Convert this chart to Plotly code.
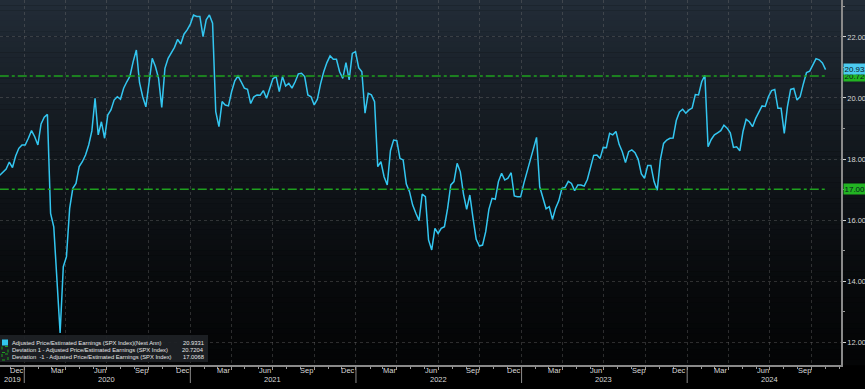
import pandas as pd
import plotly.graph_objects as go

# ---------------- data ----------------
start_date = "2019-11-08"
pe_values = [
    17.47, 17.56, 17.67, 17.90, 17.72, 18.10, 18.35, 18.46, 18.46, 18.68,
    18.93, 18.73, 18.46, 19.15, 19.37, 19.46, 16.22, 15.78, 14.14, 12.30,
    14.47, 14.80, 16.38, 17.04, 17.20, 17.75, 17.91, 18.13, 18.46, 18.92,
    19.99, 18.79, 19.22, 18.68, 19.44, 19.61, 19.93, 20.04, 19.96, 20.32,
    20.53, 20.72, 21.19, 21.57, 20.50, 20.04, 19.71, 20.53, 21.30, 21.03,
    20.64, 19.69, 20.97, 21.30, 21.46, 21.66, 21.92, 21.77, 22.09, 22.23,
    22.42, 22.72, 22.67, 22.67, 22.01, 22.56, 22.72, 22.45, 19.55, 19.06,
    19.88, 19.77, 19.74, 20.21, 20.56, 20.72, 20.53, 20.32, 20.28, 19.82,
    20.04, 20.10, 20.09, 20.24, 19.99, 20.35, 20.63, 20.70, 20.21, 20.70,
    20.39, 20.48, 20.32, 20.53, 20.79, 20.81, 20.70, 20.10, 20.04, 19.77,
    19.96, 20.46, 20.86, 21.16, 21.38, 21.27, 21.27, 20.86, 20.64, 21.16,
    20.59, 21.46, 21.52, 20.99, 20.86, 19.50, 20.15, 20.10, 19.88, 17.75,
    17.91, 17.42, 17.15, 18.27, 18.62, 18.60, 18.02, 17.97, 17.18, 16.93,
    16.49, 16.22, 15.98, 16.85, 16.77, 15.35, 15.02, 15.73, 15.56, 15.73,
    15.78, 16.38, 17.15, 17.26, 17.86, 17.58, 16.85, 16.35, 16.82, 16.06,
    15.37, 15.15, 15.18, 15.62, 16.35, 16.71, 16.68, 17.26, 17.53, 17.31,
    17.37, 17.55, 16.79, 16.76, 16.76, 17.20, 17.58, 17.94, 18.35, 18.71,
    17.09, 16.76, 16.37, 16.44, 16.02, 16.39, 16.63, 17.04, 17.07, 17.27,
    17.20, 16.96, 17.15, 17.15, 17.11, 17.33, 17.73, 18.12, 18.13, 18.02,
    18.38, 18.37, 18.84, 18.79, 18.90, 18.48, 18.24, 17.88, 18.24, 18.30,
    18.21, 17.99, 17.51, 17.37, 17.79, 17.79, 17.26, 16.98, 17.99, 18.51,
    18.62, 18.68, 18.69, 19.26, 19.54, 19.63, 19.50, 19.61, 19.67, 20.11,
    20.10, 20.53, 20.74, 18.40, 18.64, 18.79, 18.86, 18.93, 19.11, 19.01,
    18.86, 18.38, 18.40, 18.27, 18.90, 19.30, 19.22, 19.06, 19.33, 19.55,
    19.74, 19.72, 20.04, 20.24, 20.28, 19.66, 19.66, 18.84, 19.72, 20.28,
    20.31, 19.93, 20.04, 20.46, 20.83, 20.88, 21.08, 21.29, 21.25, 21.15,
    20.93,
]
last_value = 20.9331
dev_plus = 20.7204
dev_minus = 17.0068

legend_names = [
    "Adjusted Price/Estimated Earnings (SPX Index)(Next Ann)",
    "Deviation 1 - Adjusted Price/Estimated Earnings (SPX Index)",
    "Deviation \u00a0-1 - Adjusted Price/Estimated Earnings (SPX Index)",
]
legend_values = ["20.9331", "20.7204", "17.0068"]
year_labels = ["2019", "2020", "2021", "2022", "2023", "2024"]
y_ticks = [12, 14, 16, 18, 20, 22]

dates = pd.date_range(start_date, periods=len(pe_values), freq="7D")

# ---------------- styling ----------------
W, H = 865, 389
ML, MR, MT, MB = 0, 24, 0, 24
PW, PH = W - ML - MR, H - MT - MB
CYAN = "#33c6f0"
GREEN = "#1ea01e"
FONT = "Liberation Sans, Arial, sans-serif"


def px_x(px):
    return (px - ML) / PW


def px_y(py):
    return (PH + MT - py) / PH


fig = go.Figure()

fig.add_trace(go.Scatter(x=dates, y=pe_values, mode="lines",
                         line=dict(color=CYAN, width=1.5), hoverinfo="skip"))
for v in (dev_plus, dev_minus):
    fig.add_trace(go.Scatter(x=[dates[0], dates[-1]], y=[v, v], mode="lines",
                             line=dict(color=GREEN, width=1.4, dash="dashdot"),
                             hoverinfo="skip"))

shapes = []
# background gradient
N = 70
top = (34, 44, 55)
bot = (4, 5, 6)
for k in range(N):
    t = (k + 0.5) / N
    f = (1 - t) ** 1.4
    c = tuple(int(round(b + (a - b) * f)) for a, b in zip(top, bot))
    shapes.append(dict(type="rect", xref="paper", yref="paper",
                       x0=0, x1=W / PW + 0.01, y0=1 - (k + 1) / N - 0.001, y1=1 - k / N,
                       fillcolor=f"rgb{c}", line=dict(width=0), layer="below"))

# year separators
for yr in range(2020, 2025):
    shapes.append(dict(type="line", xref="x", yref="paper",
                       x0=f"{yr}-01-01", x1=f"{yr}-01-01",
                       y0=px_y(366), y1=px_y(383),
                       line=dict(color="#8a8a8a", width=1)))

# legend box
shapes.append(dict(type="rect", xref="paper", yref="paper",
                   x0=0, x1=px_x(208), y0=px_y(362), y1=px_y(335),
                   fillcolor="rgba(30,34,38,0.92)", line=dict(width=0)))
shapes.append(dict(type="rect", xref="paper", yref="paper",
                   x0=px_x(2), x1=px_x(8), y0=px_y(345.5), y1=px_y(339.5),
                   fillcolor=CYAN, line=dict(width=0)))
for cy in (349.5, 357):
    shapes.append(dict(type="rect", xref="paper", yref="paper",
                       x0=px_x(2), x1=px_x(8), y0=px_y(cy + 3), y1=px_y(cy - 3),
                       fillcolor="rgba(0,0,0,0)",
                       line=dict(color=GREEN, width=1, dash="dot")))

annotations = []
for i, (name, val) in enumerate(zip(legend_names, legend_values)):
    cy = [342.5, 349.5, 357][i]
    annotations.append(dict(xref="paper", yref="paper", x=px_x(10), y=px_y(cy),
                            text=name, showarrow=False, xanchor="left", yanchor="middle",
                            font=dict(family=FONT, size=5.8, color="#e6e6e6")))
    annotations.append(dict(xref="paper", yref="paper", x=px_x(206), y=px_y(cy),
                            text=val, showarrow=False, xanchor="right", yanchor="middle",
                            font=dict(family=FONT, size=5.8, color="#e6e6e6")))

# month labels (mid-month)
for d in pd.date_range("2019-12-01", "2024-09-30", freq="3MS"):
    annotations.append(dict(xref="x", yref="paper", x=d + pd.Timedelta(days=14),
                            y=px_y(370.5), text=d.strftime("%b"), showarrow=False,
                            xanchor="center", yanchor="middle",
                            font=dict(family=FONT, size=7.5, color="#d8d8d8")))
# year labels
for yl in year_labels:
    xpos = "2019-12-06" if yl == "2019" else f"{yl}-07-01"
    annotations.append(dict(xref="x", yref="paper", x=xpos, y=px_y(379.5),
                            text=yl, showarrow=False, xanchor="center", yanchor="middle",
                            font=dict(family=FONT, size=7.5, color="#d8d8d8")))

# right-hand value tags
for val, txt, bg in ((dev_plus, f"{dev_plus:.3f}", "#22b422"),
                     (last_value, f"{last_value:.3f}", "#4ccbf0"),
                     (dev_minus, f"{dev_minus:.3f}", "#22b422")):
    annotations.append(dict(xref="paper", yref="y", x=px_x(843), y=val,
                            text=txt, showarrow=False, xanchor="left", yanchor="middle",
                            bgcolor=bg, borderpad=0.5,
                            font=dict(family=FONT, size=8, color="#08161e")))

fig.update_layout(
    width=W, height=H, autosize=False,
    margin=dict(l=ML, r=MR, t=MT, b=MB),
    paper_bgcolor="#000000", plot_bgcolor="rgba(0,0,0,0)",
    showlegend=False,
    shapes=shapes, annotations=annotations,
    xaxis=dict(
        type="date",
        range=["2019-11-08 12:00", "2024-12-05"],
        tick0="2020-01-01", dtick="M3",
        showgrid=True, griddash="dot", gridcolor="rgba(120,120,120,0.35)", gridwidth=1,
        ticks="outside", ticklen=3, tickcolor="#9a9a9a",
        showticklabels=False,
        minor=dict(dtick="M1", tick0="2020-01-01", ticks="outside", ticklen=2,
                   tickcolor="#9a9a9a", showgrid=False),
        showline=True, linecolor="#8a8a8a", linewidth=1.5,
        zeroline=False, fixedrange=True,
    ),
    yaxis=dict(
        side="right",
        range=[11.25, 23.21],
        tickvals=y_ticks, tickformat=".2f",
        showgrid=True, griddash="dot", gridcolor="rgba(120,120,120,0.35)", gridwidth=1,
        ticks="outside", ticklen=3, tickcolor="#cfcfcf",
        minor=dict(dtick=1, tick0=0, ticks="outside", ticklen=2, tickcolor="#9a9a9a",
                   showgrid=False),
        tickfont=dict(family=FONT, size=7.5, color="#d6d6d6"),
        showline=True, linecolor="#8a8a8a", linewidth=1.5,
        zeroline=False, fixedrange=True,
    ),
)

fig.write_html("out.html", config={"displayModeBar": False},
               post_script="document.body.style.margin='0';")
